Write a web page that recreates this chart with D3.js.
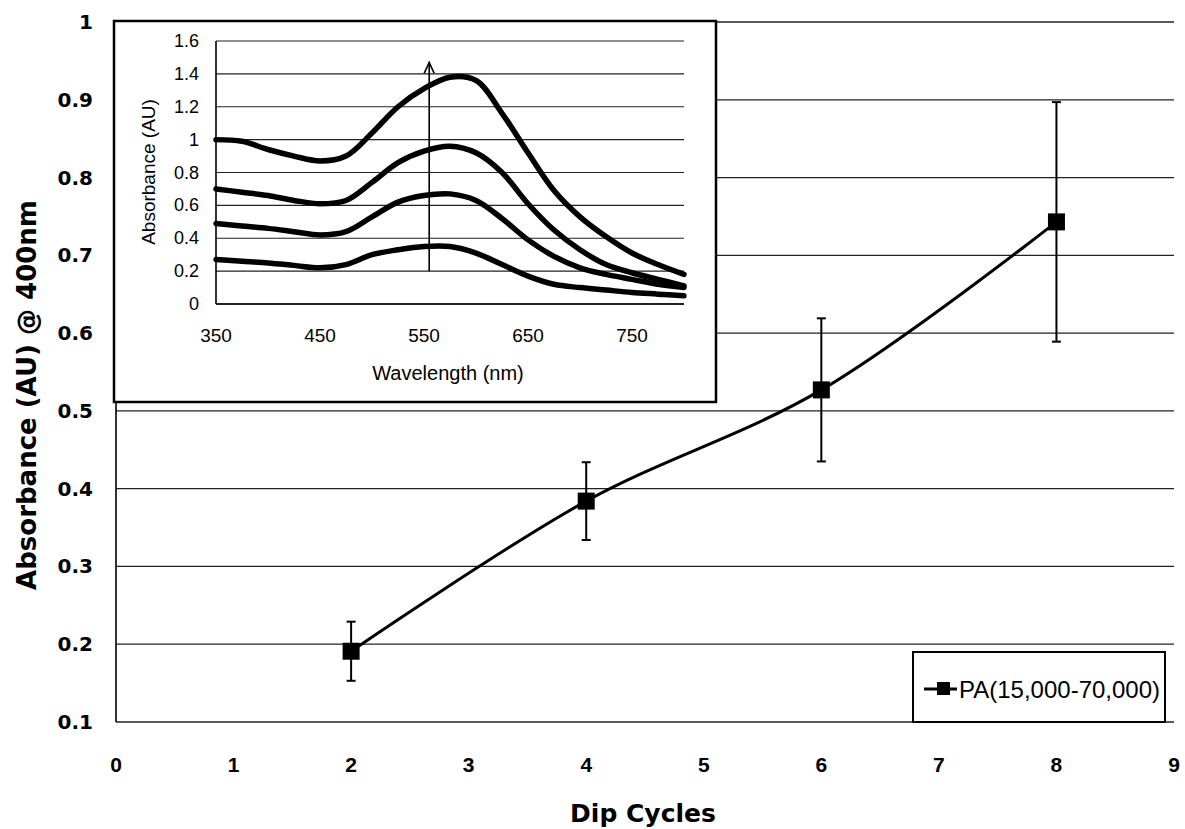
<!DOCTYPE html>
<meta charset="utf-8">
<style>
body { margin: 0; background: #fff; }
text { font-family: "Liberation Sans", Arial, sans-serif; fill: #000; }
.wide { font-family: "DejaVu Sans", sans-serif; font-weight: bold; }
</style>
<body>
<script src="https://d3js.org/d3.v7.min.js"></script>
<script>

// main chart data
var dipCycles = [2, 4, 6, 8];
var absorbance = [0.191, 0.384, 0.527, 0.743];
var errors = [0.038, 0.05, 0.092, 0.154];
var xTicks = [0, 1, 2, 3, 4, 5, 6, 7, 8, 9];
var yTicks = [0.1, 0.2, 0.3, 0.4, 0.5, 0.6, 0.7, 0.8, 0.9, 1];
var seriesName = "PA(15,000-70,000)";

// inset spectra data
var wavelengths = [350, 375, 400, 425, 450, 475, 500, 525, 550, 575, 600, 625, 650, 675, 700, 725, 750, 775, 800];
var spectrum1 = [0.27, 0.26, 0.25, 0.235, 0.22, 0.24, 0.30, 0.33, 0.35, 0.35, 0.31, 0.24, 0.17, 0.12, 0.10, 0.085, 0.07, 0.06, 0.05];
var spectrum2 = [0.49, 0.475, 0.46, 0.44, 0.42, 0.44, 0.53, 0.62, 0.66, 0.67, 0.63, 0.52, 0.39, 0.29, 0.22, 0.18, 0.15, 0.12, 0.10];
var spectrum3 = [0.70, 0.68, 0.66, 0.63, 0.61, 0.63, 0.74, 0.86, 0.93, 0.96, 0.92, 0.80, 0.61, 0.45, 0.33, 0.24, 0.19, 0.15, 0.11];
var spectrum4 = [1.00, 0.99, 0.94, 0.90, 0.87, 0.90, 1.04, 1.20, 1.31, 1.38, 1.36, 1.16, 0.92, 0.69, 0.53, 0.41, 0.31, 0.24, 0.18];
var insetXTicks = [350, 450, 550, 650, 750];
var insetYTicks = [0, 0.2, 0.4, 0.6, 0.8, 1, 1.2, 1.4, 1.6];
var arrowNm = 555, arrowFrom = 0.2, arrowTo = 1.47;

var W = 1185, H = 829;
var svg = d3.select("body").append("svg").attr("width", W).attr("height", H);

// main scales
var x = d3.scaleLinear().domain([0, 9]).range([116, 1174]);
var y = d3.scaleLinear().domain([0.1, 1]).range([722, 22]);

// gridlines
svg.append("g").selectAll("line").data(yTicks).enter().append("line")
    .attr("x1", x(0)).attr("x2", x(9))
    .attr("y1", function(d) { return y(d); }).attr("y2", function(d) { return y(d); })
    .attr("stroke", "#222").attr("stroke-width", 1.3);

// left axis line
svg.append("line").attr("x1", x(0)).attr("x2", x(0)).attr("y1", y(1)).attr("y2", y(0.1))
    .attr("stroke", "#000").attr("stroke-width", 1.6);

// tick labels
svg.append("g").selectAll("text").data(yTicks).enter().append("text")
    .attr("class", "wide")
    .attr("x", 93).attr("y", function(d) { return y(d) + 7; })
    .attr("text-anchor", "end").style("font-size", "20px")
    .text(function(d) { return d; });

svg.append("g").selectAll("text").data(xTicks).enter().append("text")
    .attr("x", function(d) { return x(d); }).attr("y", 772)
    .attr("text-anchor", "middle").style("font-size", "21px").style("font-weight", "bold")
    .text(function(d) { return d; });

// axis titles
svg.append("text").attr("class", "wide")
    .attr("x", 643).attr("y", 822).attr("text-anchor", "middle")
    .style("font-size", "25px").text("Dip Cycles");

svg.append("text").attr("class", "wide")
    .attr("transform", "translate(36,395) rotate(-90)").attr("text-anchor", "middle")
    .style("font-size", "26px").text("Absorbance (AU) @ 400nm");

// smoothed series line
var pts = dipCycles.map(function(d, i) { return [d, absorbance[i], errors[i]]; });
var line = d3.line().x(function(d) { return x(d[0]); }).y(function(d) { return y(d[1]); })
    .curve(d3.curveCatmullRom.alpha(0.5));
svg.append("path").datum(pts).attr("d", line)
    .attr("fill", "none").attr("stroke", "#000").attr("stroke-width", 3);

// error bars
var eb = svg.append("g").attr("stroke", "#000").attr("stroke-width", 2);
pts.forEach(function(d) {
  var cx = x(d[0]);
  eb.append("line").attr("x1", cx).attr("x2", cx).attr("y1", y(d[1] + d[2])).attr("y2", y(d[1] - d[2]));
  eb.append("line").attr("x1", cx - 4.5).attr("x2", cx + 4.5).attr("y1", y(d[1] + d[2])).attr("y2", y(d[1] + d[2]));
  eb.append("line").attr("x1", cx - 4.5).attr("x2", cx + 4.5).attr("y1", y(d[1] - d[2])).attr("y2", y(d[1] - d[2]));
});

// markers
svg.append("g").selectAll("rect").data(pts).enter().append("rect")
    .attr("x", function(d) { return x(d[0]) - 8.5; }).attr("y", function(d) { return y(d[1]) - 8.5; })
    .attr("width", 17).attr("height", 17).attr("fill", "#000");

// legend
var lg = svg.append("g");
lg.append("rect").attr("x", 913).attr("y", 652).attr("width", 252).attr("height", 70)
    .attr("fill", "#fff").attr("stroke", "#000").attr("stroke-width", 2);
lg.append("line").attr("x1", 924).attr("x2", 957).attr("y1", 689).attr("y2", 689)
    .attr("stroke", "#000").attr("stroke-width", 3);
lg.append("rect").attr("x", 937).attr("y", 682).attr("width", 13).attr("height", 13).attr("fill", "#000");
lg.append("text").attr("x", 959).attr("y", 698).style("font-size", "24px").text(seriesName);

// ---------- inset ----------
var ins = svg.append("g");
ins.append("rect").attr("x", 114).attr("y", 21).attr("width", 602).attr("height", 381)
    .attr("fill", "#fff").attr("stroke", "#000").attr("stroke-width", 2.5);

var ix = d3.scaleLinear().domain([350, 800]).range([216, 684]);
var iy = d3.scaleLinear().domain([0, 1.6]).range([304, 41]);

ins.append("g").selectAll("line").data(insetYTicks).enter().append("line")
    .attr("x1", ix(350)).attr("x2", ix(800))
    .attr("y1", function(d) { return iy(d); }).attr("y2", function(d) { return iy(d); })
    .attr("stroke", "#222").attr("stroke-width", function(d) { return d === 0 ? 1.8 : 1.2; });
ins.append("line").attr("x1", ix(350)).attr("x2", ix(350)).attr("y1", iy(1.6)).attr("y2", iy(0))
    .attr("stroke", "#000").attr("stroke-width", 1.6);

ins.append("g").selectAll("text").data(insetYTicks).enter().append("text")
    .attr("x", 199).attr("y", function(d) { return iy(d) + 6; })
    .attr("text-anchor", "end").style("font-size", "18px")
    .text(function(d) { return d; });
ins.append("g").selectAll("text").data(insetXTicks).enter().append("text")
    .attr("x", function(d) { return ix(d); }).attr("y", 342)
    .attr("text-anchor", "middle").style("font-size", "19px")
    .text(function(d) { return d; });

ins.append("text").attr("x", 448).attr("y", 380).attr("text-anchor", "middle")
    .style("font-size", "20px").text("Wavelength (nm)");
ins.append("text").attr("transform", "translate(155,172) rotate(-90)").attr("text-anchor", "middle")
    .style("font-size", "19px").text("Absorbance (AU)");

var iline = d3.line().x(function(d) { return ix(d[0]); }).y(function(d) { return iy(d[1]); })
    .curve(d3.curveCatmullRom.alpha(0.5));
[spectrum1, spectrum2, spectrum3, spectrum4].forEach(function(s) {
  ins.append("path").datum(wavelengths.map(function(w, i) { return [w, s[i]]; }))
      .attr("d", iline).attr("fill", "none").attr("stroke", "#000")
      .attr("stroke-width", 5.5).attr("stroke-linecap", "round");
});

// arrow
ins.append("line").attr("x1", ix(arrowNm)).attr("x2", ix(arrowNm))
    .attr("y1", iy(arrowFrom)).attr("y2", iy(arrowTo))
    .attr("stroke", "#000").attr("stroke-width", 1.6);
ins.append("path")
    .attr("d", "M" + (ix(arrowNm) - 5) + "," + (iy(arrowTo) + 11) + "L" + ix(arrowNm) + "," + iy(arrowTo) +
               "L" + (ix(arrowNm) + 5) + "," + (iy(arrowTo) + 11))
    .attr("fill", "none").attr("stroke", "#000").attr("stroke-width", 1.6);

</script>
</body>
